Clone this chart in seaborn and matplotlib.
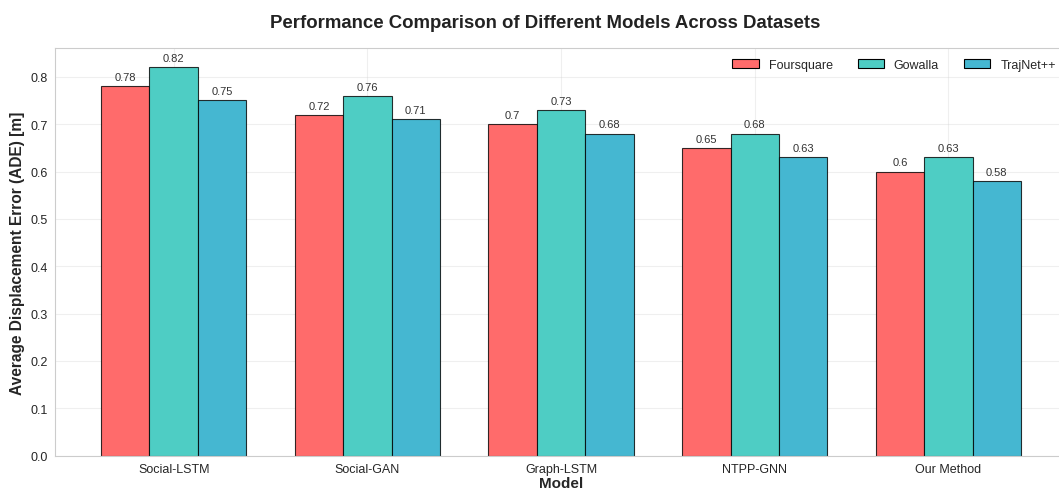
import numpy as np
import matplotlib
matplotlib.use("Agg")
import matplotlib.pyplot as plt
import seaborn as sns
import pandas as pd

models = ["Social-LSTM", "Social-GAN", "Graph-LSTM", "NTPP-GNN", "Our Method"]
datasets = ["Foursquare", "Gowalla", "TrajNet++"]
foursquare = [0.78, 0.72, 0.70, 0.65, 0.60]
gowalla = [0.82, 0.76, 0.73, 0.68, 0.63]
trajnet = [0.75, 0.71, 0.68, 0.63, 0.58]
colors = ["#FF6B6B", "#4ECDC4", "#45B7D1"]

sns.set_style("whitegrid")
plt.rcParams["font.family"] = ["Liberation Sans", "DejaVu Sans"]

df = pd.DataFrame({
    "Model": models * 3,
    "Dataset": np.repeat(datasets, len(models)),
    "ADE": foursquare + gowalla + trajnet,
})

fig, ax = plt.subplots(figsize=(10.59, 4.89), dpi=100)
# the original picture is cropped: the right part of the axes falls outside
fig.subplots_adjust(left=0.052, right=1.0076, top=0.9, bottom=0.066)

sns.barplot(data=df, x="Model", y="ADE", hue="Dataset", hue_order=datasets,
            palette=colors, width=0.75, edgecolor="black", linewidth=0.8,
            saturation=1, errorbar=None, ax=ax)

for bars in ax.containers:
    for b in bars:
        b.set_edgecolor((0, 0, 0, 0.8))
    ax.bar_label(bars, fmt="%g", padding=3, fontsize=8, color="#333333")

# matplotlib-style 5% margins instead of seaborn's categorical limits
ax.set_xlim(-0.375 - 0.2375, len(models) - 1 + 0.375 + 0.2375)

ax.set_title("Performance Comparison of Different Models Across Datasets",
             fontsize=13.4, fontweight="bold", pad=15, color="#222222", x=0.484)
ax.set_xlabel("Model", fontsize=11, fontweight="bold", labelpad=1)
ax.set_ylabel("Average Displacement Error (ADE) [m]", fontsize=11.2, fontweight="bold")
ax.tick_params(axis="both", labelsize=9, pad=1.5)
ax.grid(True, alpha=0.3)
for s in ax.spines.values():
    s.set_color("#cccccc")

ax.legend(loc="upper right", ncol=3, frameon=False, fontsize=9,
          handlelength=2.1, columnspacing=2.0)

plt.savefig("out.png", dpi=100)
